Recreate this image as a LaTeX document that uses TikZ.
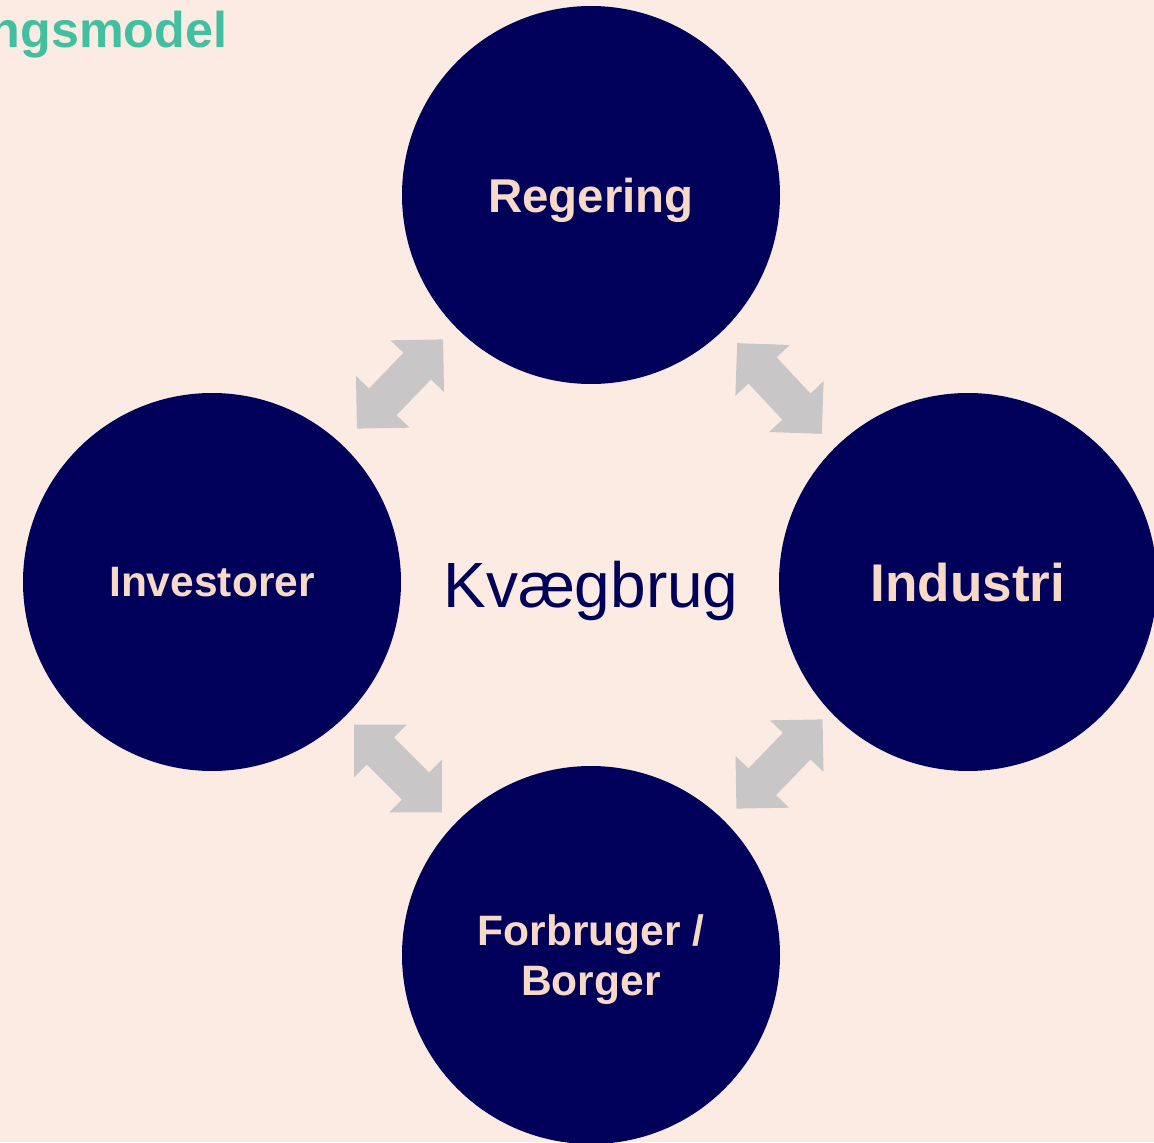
\documentclass[tikz,border=0pt]{standalone}
\usepackage{fontspec}
\setmainfont{Liberation Sans}
\usetikzlibrary{shapes.arrows,calc}
\definecolor{bgpeach}{HTML}{FCEBE3}
\definecolor{navy}{HTML}{00005A}
\definecolor{peach}{HTML}{F8D9C8}
\definecolor{titlegreen}{HTML}{41BFA0}
\definecolor{arrowgray}{HTML}{C8C6C6}

\begin{document}
\begin{tikzpicture}[
	actor/.style={circle, fill=navy, minimum size=3.78cm, inner sep=0pt, text=peach, align=center, text depth=0pt},
	twoway/.style={double arrow, fill=arrowgray, double arrow tip angle=90,
		double arrow head extend=0.18cm, minimum height=1.24cm, inner xsep=0pt, inner ysep=0.185cm}]
		\path[use as bounding box] (0,0) rectangle (11.54,11.42);
		\clip (0,0) rectangle (11.54,11.42);
		\fill[bgpeach] (0,0) rectangle (11.54,11.42);
		\node[anchor=base east, inner sep=0pt, text=titlegreen, font=\fontsize{14.3}{17}\selectfont\bfseries] (title) at (2.28,10.95) {ngsmodel};
		\node[actor, font=\fontsize{13.5}{16}\selectfont\bfseries] (reg)  at (5.91,9.47) {Regering};
		\node[actor, font=\fontsize{12.1}{15}\selectfont\bfseries] (inv)  at (2.12,5.60) {Investorer};
		\node[actor, font=\fontsize{15.1}{18}\selectfont\bfseries] (ind)  at (9.68,5.60) {Industri};
		\node[actor, font=\fontsize{12.1}{14.2}\selectfont\bfseries] (forb) at (5.91,1.87) {Forbruger /\\ Borger};
		\node[anchor=base, text=navy, font=\fontsize{18.2}{22}\selectfont] (kvaeg) at (5.91,5.35) {Kvægbrug};
		\node[twoway, xshift=-0.015cm, yshift=0.045cm, rotate=46] (a1) at ($(inv)!0.5!(reg)$) {};
		\node[twoway, rotate=-47] (a2) at ($(reg)!0.5!(ind)$) {};
		\node[twoway, xshift=-0.035cm, rotate=-45] (a3) at ($(inv)!0.5!(forb)$) {};
		\node[twoway, yshift=0.045cm, rotate=46] (a4) at ($(forb)!0.5!(ind)$) {};
	\end{tikzpicture}
\end{document}
